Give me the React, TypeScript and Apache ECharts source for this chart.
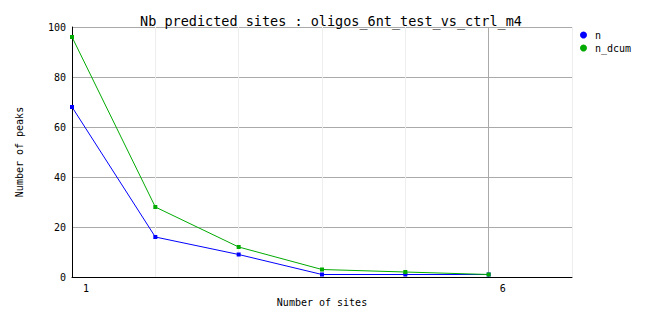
import React, { useEffect, useRef } from "react";
import * as echarts from "echarts";

const titleText = "Nb predicted sites : oligos_6nt_test_vs_ctrl_m4";
const sites = [1, 2, 3, 4, 5, 6];
const nValues = [68, 16, 9, 1, 1, 1];
const nDcumValues = [96, 28, 12, 3, 2, 1];
const xLabelsShown = [1, 6];
const seriesNames = ["n", "n_dcum"];
const seriesColors = ["#0000ff", "#00aa00"];

const FONT = "DejaVu Sans Mono";

export default function App() {
  const ref = useRef<HTMLDivElement>(null);
  useEffect(() => {
    document.body.style.margin = "0";
    const chart = echarts.init(ref.current!, null, { renderer: "svg" });
    const mk = (vals: number[]) => sites.map((s, i) => [s, vals[i]]);
    chart.setOption({
      animation: false,
      backgroundColor: "#ffffff",
      title: {
        text: titleText,
        left: "center",
        top: 9,
        textStyle: { fontFamily: FONT, fontSize: 13.5, fontWeight: "normal", color: "#000" },
      },
      legend: {
        orient: "vertical",
        left: 575,
        top: 25,
        itemWidth: 7,
        itemHeight: 7,
        itemGap: 3,
        icon: "circle",
        data: seriesNames,
        textStyle: { fontFamily: FONT, fontSize: 10, color: "#000", padding: [0, 0, 0, 3] },
      },
      grid: { left: 72, right: 90, top: 27, bottom: 51, containLabel: false },
      xAxis: {
        type: "value",
        min: 1,
        max: 7,
        interval: 1,
        name: "Number of sites",
        nameLocation: "middle",
        nameGap: 20,
        nameTextStyle: { fontFamily: FONT, fontSize: 10, color: "#000" },
        axisLine: { show: true, onZero: false, lineStyle: { color: "#000", width: 1 } },
        axisTick: { show: false },
        axisLabel: {
          fontFamily: FONT,
          fontSize: 10,
          color: "#000",
          margin: 6,
          padding: [0, 0, 0, 28],
          formatter: (v: number) => (xLabelsShown.includes(v) ? String(v) : ""),
        },
        splitLine: { show: true, lineStyle: { color: "#eeeeee", width: 1 } },
      },
      yAxis: {
        type: "value",
        min: 0,
        max: 100,
        interval: 20,
        name: "Number of peaks",
        nameLocation: "middle",
        nameGap: 48,
        nameTextStyle: { fontFamily: FONT, fontSize: 10, color: "#000" },
        axisLine: { show: true, lineStyle: { color: "#000", width: 1 } },
        axisTick: { show: false },
        axisLabel: { fontFamily: FONT, fontSize: 10, color: "#000", margin: 6 },
        splitLine: { show: true, lineStyle: { color: "#aaaaaa", width: 1 } },
      },
      series: [
        {
          name: seriesNames[0],
          type: "line",
          data: mk(nValues),
          color: seriesColors[0],
          symbol: "rect",
          symbolSize: 4,
          lineStyle: { width: 1, color: seriesColors[0] },
          itemStyle: { color: seriesColors[0] },
          markLine: {
            silent: true,
            symbol: "none",
            label: { show: false },
            lineStyle: { color: "#aaaaaa", width: 1, type: "solid" },
            data: [{ xAxis: 6 }],
            z: 1,
          },
          z: 3,
        },
        {
          name: seriesNames[1],
          type: "line",
          data: mk(nDcumValues),
          color: seriesColors[1],
          symbol: "rect",
          symbolSize: 4,
          lineStyle: { width: 1, color: seriesColors[1] },
          itemStyle: { color: seriesColors[1] },
          z: 4,
        },
      ],
    });
    return () => chart.dispose();
  }, []);
  return <div ref={ref} style={{ width: 662, height: 328 }} />;
}
